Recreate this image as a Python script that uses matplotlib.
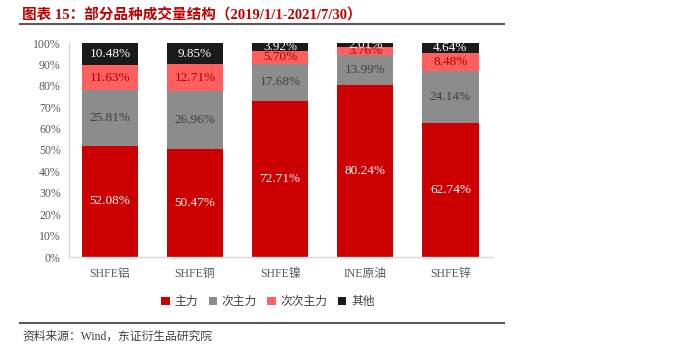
import matplotlib
matplotlib.use("Agg")
import matplotlib.pyplot as plt
from matplotlib.lines import Line2D
from matplotlib.patches import Patch
import numpy as np

categories = ["SHFE铝", "SHFE铜", "SHFE镍", "INE原油", "SHFE锌"]
series_names = ["主力", "次主力", "次次主力", "其他"]
main = [52.08, 50.47, 72.71, 80.24, 62.74]
second = [25.81, 26.96, 17.68, 13.99, 24.14]
third = [11.63, 12.71, 5.70, 3.76, 8.48]
other = [10.48, 9.85, 3.92, 2.01, 4.64]
yticks = [0, 10, 20, 30, 40, 50, 60, 70, 80, 90, 100]

colors = ["#CC0000", "#8C8C8C", "#FF5F5F", "#1A1A1A"]
text_colors = ["#FFFFFF", "#404040", "#B00000", "#FFFFFF"]
FAM = ["Liberation Serif", "Noto Sans CJK SC", "DejaVu Sans"]
plt.rcParams['font.family'] = FAM

fig = plt.figure(figsize=(7.0, 3.52), dpi=100)
ax = fig.add_axes([69/700, 1-257/352, (493-69)/700, (257-43)/352])

x = np.arange(len(categories))
bottom = np.zeros(len(categories))
for vals, c, tc in zip([main, second, third, other], colors, text_colors):
    v = np.array(vals)
    ax.bar(x, v, 0.66, bottom=bottom, color=c, edgecolor='none')
    for xi, b, val in zip(x, bottom, v):
        ax.text(xi, b + val/2, f"{val:.2f}%", ha='center', va='center',
                color=tc, fontsize=9.5, family=FAM)
    bottom += v

ax.set_xlim(-0.48, 4.5)
ax.set_ylim(0, 100)
ax.set_yticks(yticks)
ax.set_yticklabels([f"{t}%" for t in yticks])
ax.set_xticks(x)
ax.set_xticklabels(categories)
for s in ['top', 'right']:
    ax.spines[s].set_visible(False)
for s in ['left', 'bottom']:
    ax.spines[s].set_color('#D9D9D9')
    ax.spines[s].set_linewidth(1.0)
ax.tick_params(axis='both', length=0, colors='#595959', labelsize=8.5)
ax.tick_params(axis='y', pad=6)
ax.tick_params(axis='x', pad=8)

handles = [Patch(facecolor=c, edgecolor='none') for c in colors]
fig.legend(handles, series_names, loc='center', bbox_to_anchor=(268/700, 1-302/352),
           ncol=4, frameon=False, fontsize=8.5, handlelength=0.7, handleheight=0.7,
           handletextpad=0.4, columnspacing=0.9, labelcolor='#404040')

fig.text(22/700, 1-15/352, "图表 15：部分品种成交量结构（2019/1/1-2021/7/30）",
         color='#C00000', fontsize=10.5, fontweight='bold', va='center', ha='left')
fig.add_artist(Line2D([20/700, 504/700], [1-24/352, 1-24/352], color='#595959', lw=1.5))
fig.add_artist(Line2D([20/700, 504/700], [1-323/352, 1-323/352], color='#595959', lw=1.5))
fig.text(22/700, 1-337/352, "资料来源：Wind，东证衍生品研究院", color='#404040',
         fontsize=8.5, va='center', ha='left')

fig.savefig("out.png", dpi=100)
